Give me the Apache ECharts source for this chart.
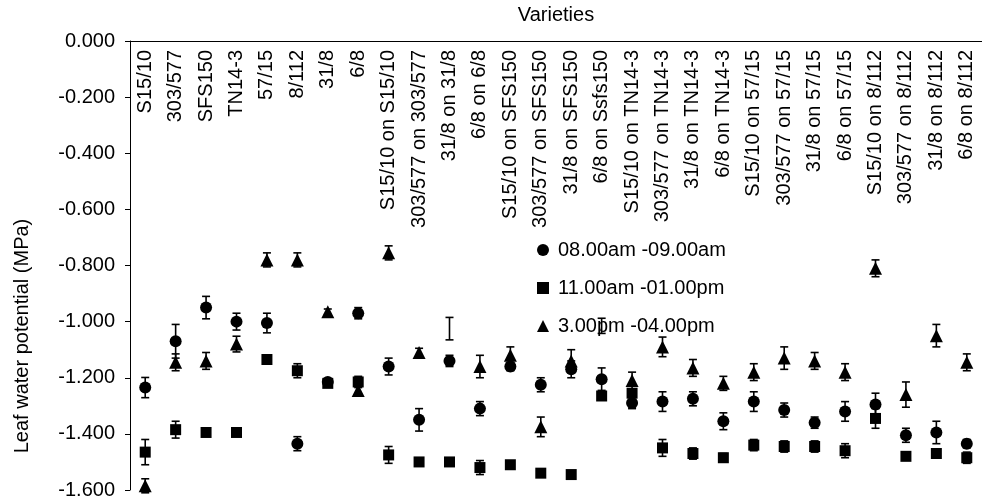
<!DOCTYPE html>
<html>
<head>
<meta charset="utf-8">
<script src="https://cdn.jsdelivr.net/npm/echarts@6/dist/echarts.min.js"></script>
<style>
  html, body { margin: 0; padding: 0; background: #fff; }
  #chart { width: 982px; height: 504px; }
</style>
</head>
<body>
<div id="chart"></div>
<script>
// Varieties and grafted combinations (scion on rootstock)
const categories = [
  'S15/10', '303/577', 'SFS150', 'TN14-3', '57/15', '8/112', '31/8', '6/8',
  'S15/10 on S15/10', '303/577 on 303/577', '31/8 on 31/8', '6/8 on 6/8',
  'S15/10 on SFS150', '303/577 on SFS150', '31/8 on SFS150', '6/8 on Ssfs150',
  'S15/10 on TN14-3', '303/577 on TN14-3', '31/8 on TN14-3', '6/8 on TN14-3',
  'S15/10 on 57/15', '303/577 on 57/15', '31/8 on 57/15', '6/8 on 57/15',
  'S15/10 on 8/112', '303/577 on 8/112', '31/8 on 8/112', '6/8 on 8/112'
];

const seriesNames = ['08.00am -09.00am', '11.00am -01.00pm', '3.00pm -04.00pm'];

// Leaf water potential (MPa), means and standard errors
const morning = [-1.235, -1.07, -0.95, -1.0, -1.005, -1.435, -1.215, -0.97,
  -1.16, -1.35, -1.14, -1.31, -1.16, -1.225, -1.17, -1.205,
  -1.29, -1.285, -1.275, -1.355, -1.285, -1.315, -1.36, -1.32,
  -1.295, -1.405, -1.395, -1.435];
const morningErr = [0.036, 0.06, 0.04, 0.03, 0.035, 0.025, 0.01, 0.02,
  0.03, 0.04, 0.02, 0.025, 0.015, 0.025, 0.03, 0.04,
  0.02, 0.035, 0.025, 0.03, 0.035, 0.025, 0.02, 0.035,
  0.04, 0.025, 0.04, 0.015];

const midday = [-1.465, -1.385, -1.395, -1.395, -1.135, -1.175, -1.22, -1.215,
  -1.475, -1.5, -1.5, -1.52, -1.51, -1.54, -1.545, -1.265,
  -1.255, -1.45, -1.47, -1.485, -1.44, -1.445, -1.445, -1.46,
  -1.345, -1.48, -1.47, -1.485];
const middayErr = [0.045, 0.03, 0.01, 0.01, 0.01, 0.025, 0.01, 0.02,
  0.03, 0.01, 0.01, 0.025, 0.01, 0.01, 0.01, 0.01,
  0.01, 0.03, 0.02, 0.015, 0.02, 0.02, 0.02, 0.025,
  0.035, 0.01, 0.01, 0.02];

const afternoon = [-1.585, -1.145, -1.14, -1.08, -0.78, -0.78, -0.965, -1.245,
  -0.755, -1.11, -1.025, -1.16, -1.12, -1.375, -1.14, -1.015,
  -1.21, -1.09, -1.165, -1.22, -1.18, -1.13, -1.14, -1.18,
  -0.81, -1.26, -1.05, -1.145];
const afternoonErr = [0.025, 0.03, 0.03, 0.028, 0.025, 0.025, 0.01, 0.015,
  0.025, 0.015, 0.04, 0.04, 0.03, 0.035, 0.04, 0.027,
  0.03, 0.035, 0.03, 0.025, 0.03, 0.04, 0.03, 0.03,
  0.03, 0.045, 0.04, 0.03];

// Afternoon readings plotted with error bars only (no marker)
const afternoonBarOnly = [10, 15];

const FONT = 'Liberation Sans, Arial, sans-serif';
const chart = echarts.init(document.getElementById('chart'), null, { renderer: 'canvas' });

function errorBars(name, means, errs) {
  return {
    name: name,
    type: 'custom',
    z: 5,
    silent: true,
    encode: { x: 0, y: 1 },
    data: means.map((m, i) => [i, m, errs[i]]),
    renderItem: function (params, api) {
      const i = api.value(0), m = api.value(1), e = api.value(2);
      const top = api.coord([i, m + e]);
      const bot = api.coord([i, m - e]);
      const cap = 4;
      const style = { stroke: '#000', lineWidth: 1.6 };
      return {
        type: 'group',
        children: [
          { type: 'line', shape: { x1: top[0], y1: top[1], x2: bot[0], y2: bot[1] }, style: style },
          { type: 'line', shape: { x1: top[0] - cap, y1: top[1], x2: top[0] + cap, y2: top[1] }, style: style },
          { type: 'line', shape: { x1: bot[0] - cap, y1: bot[1], x2: bot[0] + cap, y2: bot[1] }, style: style }
        ]
      };
    }
  };
}

function markers(name, means, symbol, size, hidden) {
  return {
    name: name,
    type: 'scatter',
    symbol: symbol,
    symbolSize: size,
    z: 4,
    itemStyle: { color: '#000', opacity: 1 },
    data: means.map((m, i) => (hidden && hidden.indexOf(i) >= 0)
      ? { value: [i, m], symbolSize: 0 }
      : [i, m])
  };
}

const option = {
  animation: false,
  backgroundColor: '#fff',
  textStyle: { fontFamily: FONT, color: '#000' },
  grid: { left: 130, top: 33, right: -8, bottom: 14, containLabel: false },
  legend: {
    orient: 'vertical',
    left: 532,
    top: 235,
    itemWidth: 12,
    itemHeight: 12,
    itemGap: 18,
    symbolKeepAspect: true,
    data: seriesNames,
    textStyle: { fontFamily: FONT, fontSize: 20, color: '#000', padding: [0, 0, 0, 4] }
  },
  xAxis: {
    type: 'category',
    position: 'top',
    data: categories,
    boundaryGap: true,
    name: 'Varieties',
    nameLocation: 'middle',
    nameGap: 16,
    nameTextStyle: { fontFamily: FONT, fontSize: 20, color: '#000' },
    axisLine: { onZero: false, lineStyle: { color: '#000', width: 1 } },
    axisTick: { inside: true, length: 4, lineStyle: { color: '#000' }, alignWithLabel: false },
    axisLabel: {
      inside: true,
      rotate: -90,
      interval: 0,
      margin: 9,
      fontFamily: FONT,
      fontSize: 20,
      color: '#000'
    },
    splitLine: { show: false }
  },
  yAxis: {
    type: 'value',
    min: -1.6,
    max: 0,
    interval: 0.2,
    axisLine: { show: true, lineStyle: { color: '#000', width: 1 } },
    axisTick: { show: true, inside: false, length: 5, lineStyle: { color: '#000' } },
    axisLabel: {
      margin: 15,
      fontFamily: FONT,
      fontSize: 20,
      color: '#000',
      formatter: v => v.toFixed(3)
    },
    splitLine: { show: false }
  },
  graphic: [{
    type: 'text',
    x: 22,
    y: 336,
    rotation: Math.PI / 2,
    style: {
      text: 'Leaf water potential (MPa)',
      fontFamily: FONT,
      fontSize: 20,
      fill: '#000',
      textAlign: 'center',
      textVerticalAlign: 'middle'
    }
  }],
  series: [
    markers(seriesNames[0], morning, 'circle', 12),
    markers(seriesNames[1], midday, 'rect', 11),
    markers(seriesNames[2], afternoon, 'triangle', 13, afternoonBarOnly),
    errorBars('err-morning', morning, morningErr),
    errorBars('err-midday', midday, middayErr),
    errorBars('err-afternoon', afternoon, afternoonErr)
  ]
};

chart.setOption(option);
</script>
</body>
</html>
